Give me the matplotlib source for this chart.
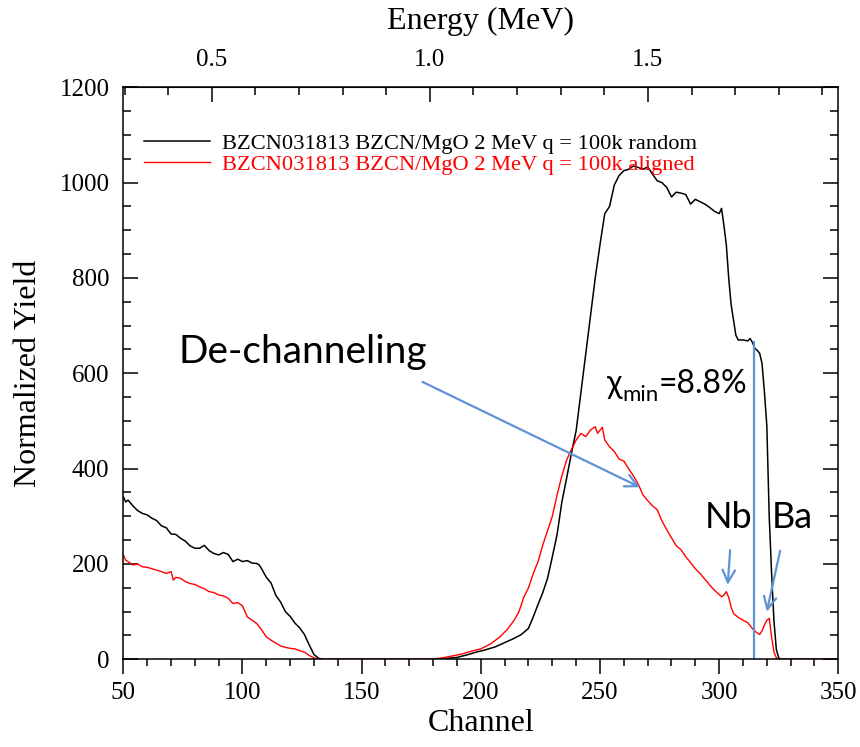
import matplotlib
matplotlib.use("Agg")
import matplotlib.pyplot as plt
from matplotlib.ticker import MultipleLocator, FixedLocator

# Data
ch_random = [50, 51, 52, 54, 56, 58, 60, 62, 64, 66, 68, 70, 72, 74, 76, 78, 80, 82, 84, 86,
             88, 90, 92, 94, 96, 98, 100, 102, 104, 106, 107, 108, 110, 112, 114, 116, 118, 120,
             122, 124, 126, 128, 130, 132, 134, 140, 150, 160, 170, 178, 182, 186, 190, 194, 198,
             202, 206, 210, 214, 217, 220, 222, 224, 226, 228, 230, 232, 234, 236, 238, 240, 242,
             244, 246, 248, 250, 252, 254, 256, 258, 260, 262, 264, 266, 268, 270, 272, 274, 276,
             278, 280, 282, 284, 286, 288, 290, 292, 294, 296, 298, 300, 301, 302, 303, 304, 305,
             306, 307, 308, 310, 312, 313, 314, 315, 316, 317, 318, 319, 320, 321, 322, 323, 324,
             325, 326, 330, 340, 350]
y_random = [341, 330, 334, 322, 312, 306, 303, 296, 291, 280, 276, 263, 262, 254, 248, 238, 233,
            233, 239, 228, 222, 219, 224, 220, 205, 210, 205, 207, 202, 201, 198, 190, 172, 160,
            134, 120, 100, 90, 76, 66, 52, 30, 10, 2, 0, 0, 0, 0, 0, 0, 1, 2, 4, 9, 15, 20, 26, 35,
            44, 52, 65, 89, 115, 140, 170, 215, 262, 330, 380, 432, 480, 560, 640, 720, 800, 870,
            935, 950, 995, 1015, 1025, 1028, 1035, 1032, 1028, 1033, 1018, 1004, 1000, 990, 970,
            980, 978, 975, 955, 965, 960, 955, 948, 940, 935, 946, 910, 870, 800, 745, 712, 680,
            670, 670, 668, 673, 664, 652, 648, 642, 620, 560, 490, 300, 180, 80, 20, 3, 0, 0, 0, 0]

ch_aligned = [50, 51, 52, 54, 56, 58, 60, 62, 64, 66, 68, 70, 71, 72, 74, 76, 78, 80, 82, 84, 86,
              88, 90, 92, 94, 96, 98, 100, 102, 104, 106, 108, 110, 112, 114, 116, 118, 120, 122,
              124, 126, 128, 130, 132, 140, 150, 160, 170, 175, 180, 184, 188, 192, 196, 200, 204,
              208, 211, 214, 216, 218, 220, 222, 224, 226, 228, 230, 232, 234, 236, 238, 240, 242,
              244, 246, 248, 249, 251, 252, 254, 256, 258, 260, 262, 264, 266, 268, 270, 272, 274,
              276, 278, 280, 282, 284, 286, 288, 290, 292, 294, 296, 298, 300, 301, 302, 303, 304,
              305, 306, 308, 310, 312, 314, 316, 317, 318, 319, 320, 321, 322, 323, 324, 325, 330,
              340, 350]
y_aligned = [219, 208, 205, 198, 200, 194, 193, 190, 187, 184, 180, 184, 166, 172, 170, 163, 159,
             157, 152, 148, 142, 140, 135, 133, 128, 117, 119, 112, 89, 82, 75, 62, 47, 40, 34, 28,
             25, 23, 22, 18, 15, 8, 3, 0, 0, 0, 0, 0, 0, 1, 3, 7, 11, 17, 22, 32, 47, 62, 82, 100,
             130, 150, 180, 205, 240, 270, 300, 345, 385, 418, 440, 460, 474, 467, 481, 488, 474,
             487, 460, 446, 436, 420, 416, 400, 385, 368, 345, 333, 322, 314, 290, 272, 255, 238,
             230, 215, 203, 190, 180, 168, 156, 145, 136, 131, 135, 142, 130, 110, 96, 88, 82, 77,
             64, 55, 52, 60, 72, 82, 86, 47, 15, 3, 0, 0, 0, 0]

label_random = "BZCN031813 BZCN/MgO 2 MeV q = 100k random"
label_aligned = "BZCN031813 BZCN/MgO 2 MeV q = 100k aligned"

energy_ticks = [0.5, 1.0, 1.5]
energy_minor = [0.3, 0.4, 0.6, 0.7, 0.8, 0.9, 1.1, 1.2, 1.3, 1.4, 1.6, 1.7, 1.8, 1.9]

# channel -> energy calibration
E_SLOPE = 0.005464
E_OFFSET = 0.0241

BLUE = "#6093d4"
SERIF = "Liberation Serif"
SANS = ["Lato", "Noto Sans", "DejaVu Sans"]

plt.rcParams["font.family"] = SERIF

fig = plt.figure(figsize=(8.6, 7.47), dpi=100)
ax = fig.add_axes([0.1434, 0.1174, 0.8314, 0.7657])

ax.plot(ch_random, y_random, color="black", lw=1.1, label=label_random)
ax.plot(ch_aligned, y_aligned, color="red", lw=1.0, label=label_aligned)

ax.set_xlim(50, 350)
ax.set_ylim(0, 1200)
ax.xaxis.set_major_locator(MultipleLocator(50))
ax.xaxis.set_minor_locator(MultipleLocator(10))
ax.yaxis.set_major_locator(MultipleLocator(200))
ax.yaxis.set_minor_locator(MultipleLocator(50))

ax.tick_params(axis="x", which="both", direction="out", labelsize=18, pad=5)
ax.tick_params(axis="x", which="major", length=11, width=1.1)
ax.tick_params(axis="x", which="minor", length=5, width=1.1)
ax.tick_params(axis="y", which="both", direction="in", right=True, labelsize=18, pad=10)
ax.tick_params(axis="y", which="major", length=11, width=1.1)
ax.tick_params(axis="y", which="minor", length=6, width=1.1)
for s in ax.spines.values():
    s.set_linewidth(1.1)

ax.set_xlabel("Channel", fontsize=23, labelpad=4)
ax.set_ylabel("Normalized Yield", fontsize=23, labelpad=12)

sec = ax.secondary_xaxis("top", functions=(lambda c: E_OFFSET + E_SLOPE * c,
                                           lambda e: (e - E_OFFSET) / E_SLOPE))
sec.xaxis.set_major_locator(FixedLocator(energy_ticks))
sec.xaxis.set_minor_locator(FixedLocator(energy_minor))
sec.set_xticklabels(["0.5", "1.0", "1.5"])
sec.tick_params(which="both", direction="in", labelsize=18, pad=12, width=1.1)
sec.tick_params(which="major", length=11)
sec.tick_params(which="minor", length=6)
sec.set_xlabel("Energy (MeV)", fontsize=23, labelpad=14)

ax.legend(loc="upper left", bbox_to_anchor=(0.029, 0.92), frameon=False, fontsize=16.2,
          labelcolor="linecolor", handlelength=2.95, handletextpad=0.5, labelspacing=0.03,
          borderaxespad=0, borderpad=0)

# annotations
arrow_kw = dict(arrowstyle="->,head_length=0.9,head_width=0.45", color=BLUE, lw=1.6,
                shrinkA=0, shrinkB=0)
ax.text(73, 621, "De-channeling", fontsize=28, family=SANS, color="black")
ax.annotate("", xy=(266.8, 361), xytext=(175.5, 582), arrowprops=arrow_kw)

ax.plot([314.7, 314.7], [0, 666], color=BLUE, lw=1.6)
ax.text(252.8, 558, "χ", fontsize=23, family=SANS, color="black")
ax.text(259.6, 541, "min", fontsize=16, family=SANS, color="black")
ax.text(274.6, 558, "=8.8%", fontsize=23, family=SANS, color="black")

ax.text(294.0, 275, "Nb", fontsize=26, family=SANS, color="black")
ax.text(322.0, 275, "Ba", fontsize=26, family=SANS, color="black")
ax.annotate("", xy=(303.6, 156), xytext=(304.6, 229), arrowprops=arrow_kw)
ax.annotate("", xy=(320.0, 100), xytext=(325.6, 228), arrowprops=arrow_kw)

fig.savefig("out.png", dpi=100)
